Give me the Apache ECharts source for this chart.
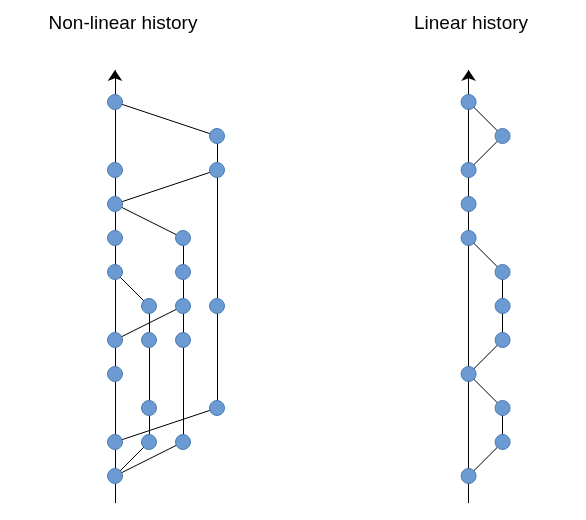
<!DOCTYPE html>
<html lang="en">
  <head>
    <meta charset="UTF-8" />
    <title>History</title>
    <script src="https://cdn.jsdelivr.net/npm/echarts/dist/echarts.min.js"></script>
    <style>
      html, body { margin: 0; padding: 0; background: #fff; }
      #chart { width: 586px; height: 520px; }
    </style>
  </head>
  <body>
    <div id="chart"></div>
    <script>
      // columns: left graph 0..3, right graph 10.4 and 11.4; rows 0 (top) .. 11 (bottom)
      var R0 = 10.4, R1 = 11.4;

      var leftNodes = [
        [0, 0], [0, 2], [0, 3], [0, 4], [0, 5], [0, 7], [0, 8], [0, 10], [0, 11],
        [1, 6], [1, 7], [1, 9], [1, 10],
        [2, 4], [2, 5], [2, 6], [2, 7], [2, 10],
        [3, 1], [3, 2], [3, 6], [3, 9]
      ];
      var leftEdges = [
        [[0, 0], [3, 1]],
        [[3, 1], [3, 9]],
        [[3, 2], [0, 3]],
        [[0, 3], [2, 4]],
        [[2, 4], [2, 10]],
        [[0, 5], [1, 6]],
        [[1, 6], [1, 10]],
        [[2, 6], [0, 7]],
        [[0, 10], [3, 9]],
        [[0, 11], [1, 10]],
        [[0, 11], [2, 10]]
      ];

      var rightNodes = [
        [R0, 0], [R0, 2], [R0, 3], [R0, 4], [R0, 8], [R0, 11],
        [R1, 1], [R1, 5], [R1, 6], [R1, 7], [R1, 9], [R1, 10]
      ];
      var rightEdges = [
        [[R0, 0], [R1, 1]], [[R1, 1], [R0, 2]],
        [[R0, 4], [R1, 5]], [[R1, 5], [R1, 7]], [[R1, 7], [R0, 8]],
        [[R0, 8], [R1, 9]], [[R1, 9], [R1, 10]], [[R1, 10], [R0, 11]]
      ];

      // trunk lines, bottom to arrow tip
      var trunks = [
        [[0, 11.8], [0, -0.94]],
        [[R0, 11.8], [R0, -0.94]]
      ];

      var chart = echarts.init(document.getElementById("chart"));

      var edgeStyle = { color: "#000", width: 1, opacity: 1 };

      chart.setOption({
        animation: false,
        title: [
          { text: "Non-linear history", left: 118, top: 9, textAlign: "center",
            textStyle: { fontFamily: "Liberation Sans", fontSize: 19, fontWeight: "normal", color: "#000" } },
          { text: "Linear history", left: 466, top: 9, textAlign: "center",
            textStyle: { fontFamily: "Liberation Sans", fontSize: 19, fontWeight: "normal", color: "#000" } }
        ],
        grid: { left: 0, right: 0, top: 0, bottom: 0 },
        xAxis: { type: "value", min: -115 / 34, max: 471 / 34, show: false },
        yAxis: { type: "value", inverse: true, min: -3, max: 418 / 34, show: false },
        series: [
          {
            type: "lines", coordinateSystem: "cartesian2d", z: 1,
            symbol: ["none", "arrow"], symbolSize: 11,
            lineStyle: edgeStyle,
            data: trunks.map(function (c) { return { coords: c }; })
          },
          {
            type: "lines", coordinateSystem: "cartesian2d", z: 1,
            lineStyle: edgeStyle,
            data: leftEdges.concat(rightEdges).map(function (c) { return { coords: c }; })
          },
          {
            type: "scatter", z: 3, symbolSize: 15,
            itemStyle: { color: "#6c9bd3", borderColor: "#4a7ab3", borderWidth: 1, opacity: 1 },
            data: leftNodes.concat(rightNodes)
          }
        ]
      });
    </script>
  </body>
</html>
